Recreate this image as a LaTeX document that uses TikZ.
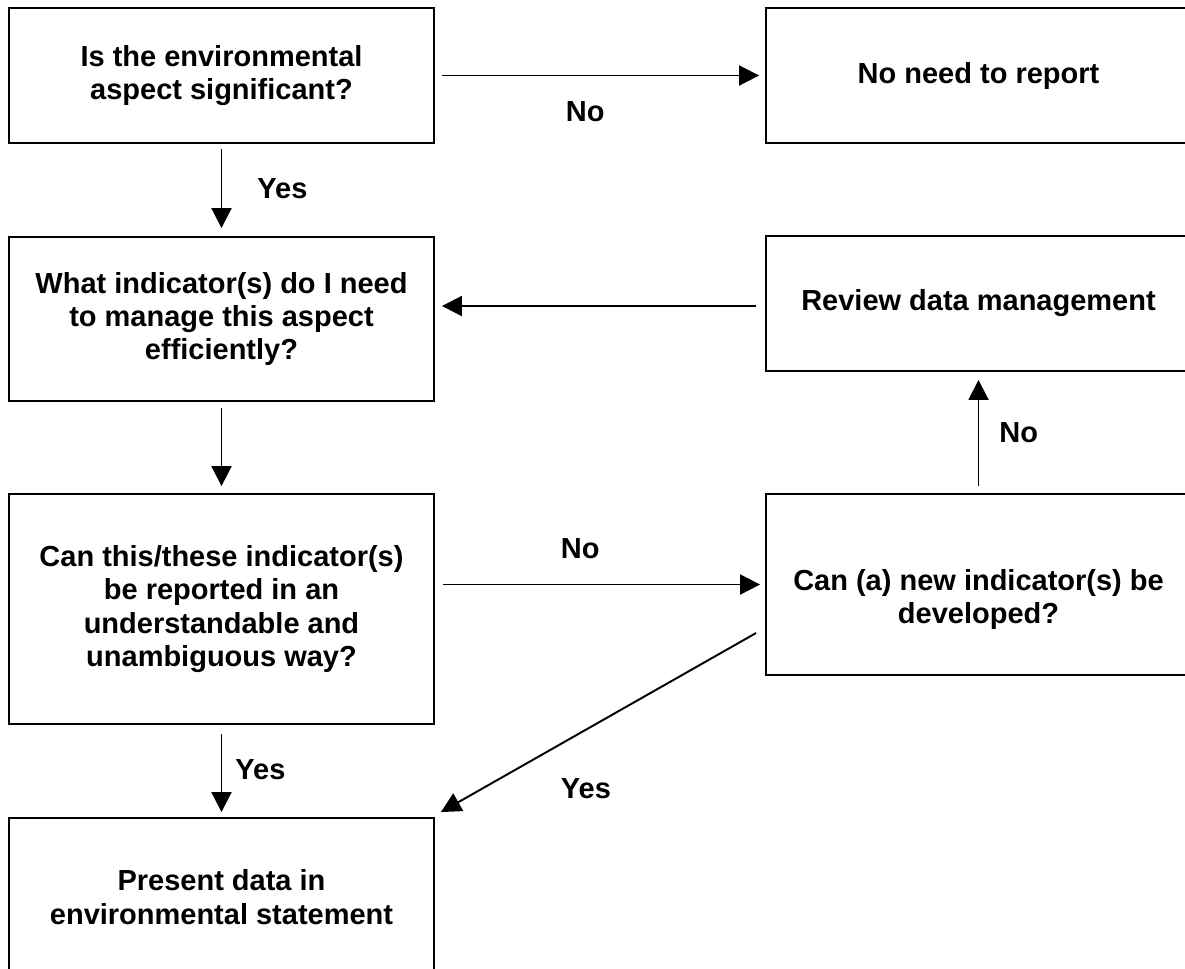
\documentclass[tikz,border=0pt]{standalone}
\usepackage{fontspec}
\setmainfont{Liberation Sans}
\usetikzlibrary{arrows.meta,positioning}

\tikzset{
  box/.style={draw, minimum width=8.5cm, inner sep=0pt, align=center,
    font=\bfseries\fontsize{16.5}{19}\selectfont},
  lbl/.style={inner sep=0pt, font=\bfseries\fontsize{16.5}{19}\selectfont},
}

\begin{document}
\begin{tikzpicture}[>={Triangle[length=0.4cm,width=0.4cm]},x=0.02cm,y=-0.02cm,line width=1.1pt]
  \useasboundingbox (0,0) rectangle (1185,968);
  \clip (0,0) rectangle (1185,968);

  % Left column
  \node[box, minimum height=2.7cm] (q1) at (221.5,75.5) {Is the environmental\\aspect significant?};
  \node[box, minimum height=3.28cm] (q3) at (221.5,319) {What indicator(s) do I need\\to manage this aspect\\efficiently?};
  \node[box, minimum height=4.6cm] (q5) at (221.5,609) {Can this/these indicator(s)\\be reported in an\\understandable and\\unambiguous way?};
  \node[box, minimum height=3.16cm] (q7) at (221.5,897) {Present data in\\environmental statement};

  % Right column
  \node[box, minimum height=2.7cm] (q2) at (978.5,75.5) {No need to report};
  \node[box, minimum height=2.7cm] (q4) at (978.5,303.5) {Review data management};
  \node[box, minimum height=3.62cm, text height=48pt] (q6) at (978.5,584.5) {Can (a) new indicator(s) be\\developed?};

  % Arrows
  \draw[->,shorten <=0.14cm,shorten >=0.12cm] (q1.east) -- (q2.west)
    node[lbl,pos=0.455,below=0.5cm] (no1) {No};
  \draw[->,shorten <=0.1cm,shorten >=0.16cm] (q1.south) -- (q3.north)
    node[lbl,pos=0.49,right=0.7cm] (yes1) {Yes};
  \draw[->,shorten <=0.18cm,shorten >=0.14cm] ([yshift=-0.05cm]q4.west) -- ([yshift=-0.05cm]q4.west -| q3.east);
  \draw[->,shorten <=0.12cm,shorten >=0.14cm] (q3.south) -- (q5.north);
  \draw[->,shorten <=0.16cm,shorten >=0.1cm] (q6.west -| q5.east) -- (q6.west)
    node[lbl,pos=0.44,above=0.5cm] (no2) {No};
  \draw[->,shorten <=0.14cm,shorten >=0.16cm] (q6.north) -- (q4.south)
    node[lbl,pos=0.5,right=0.4cm] (no3) {No};
  \draw[->] ([shift={(-0.18cm,-0.97cm)}]q6.west) -- ([shift={(0.12cm,0.1cm)}]q7.north east)
    node[lbl,pos=0.54,below=0.95cm] (yes2) {Yes};
  \draw[->,shorten <=0.18cm,shorten >=0.1cm] (q5.south) -- (q7.north)
    node[lbl,pos=0.48,right=0.26cm] (yes3) {Yes};
\end{tikzpicture}
\end{document}
